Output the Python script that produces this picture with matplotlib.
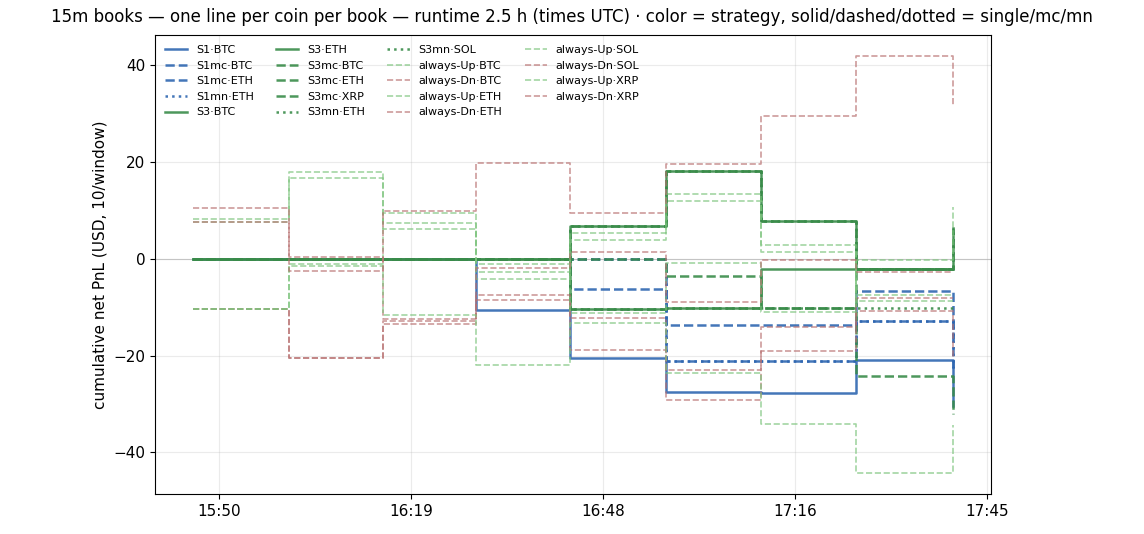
import pandas as pd
import matplotlib
matplotlib.use("Agg")
import matplotlib.pyplot as plt
import matplotlib.dates as mdates

# window timestamps (UTC); last one is the closing mark
window_times = ["15:46:53", "16:01:10", "16:15:19", "16:29:10", "16:43:19",
                "16:57:36", "17:11:45", "17:26:03", "17:40:29"]
tick_start = "15:50:45"
tick_step_s = 1724

# cumulative net PnL per window, one list per coin per book
s1_btc = [0, 0, 0, -10.6, -20.5, -27.6, -27.7, -20.9, -30.5]
s1mc_btc = [0, 0, 0, 0, -6.3, -13.7, -13.7, -6.7, -16.5]
s1mc_eth = [0, 0, 0, 0, 0, -21.1, -21.1, -12.8, -22.5]
s1mn_eth = [0, 0, 0, 0, 0, -21.1, -21.1, -12.8, -22.5]
s3_btc = [0, 0, 0, 0, -10.4, -10.2, -2.1, -2.1, -2.1]
s3_eth = [0, 0, 0, 0, 6.8, 18.1, 7.8, -2.1, 6.3]
s3mc_btc = [0, 0, 0, 0, -10.4, -10.2, -10.2, -2.1, -2.1]
s3mc_eth = [0, 0, 0, 0, 6.8, 18.1, 7.8, -2.1, 6.3]
s3mc_xrp = [0, 0, 0, 0, 0, -3.6, -10.2, -24.2, -32.0]
s3mn_eth = [0, 0, 0, 0, 6.8, 18.1, 7.8, -2.1, 6.3]
s3mn_sol = [0, 0, 0, 0, -10.4, -10.2, -10.2, -10.2, -10.2]

up_btc = [8.2, 17.9, 7.4, -2.8, 5.4, 13.3, 2.9, -7.4, -7.4]
dn_btc = [-10.3, -20.6, -12.9, -7.4, -12.3, -22.9, -14.1, -8.1, -8.1]
up_eth = [7.7, 16.6, 6.2, -4.1, 3.8, 12.0, 1.5, -8.8, -8.8]
dn_eth = [-10.3, -20.6, -13.4, -8.5, -18.8, -29.2, -19.1, -10.7, -20.8]
up_sol = [-10.3, -1.0, 9.5, -1.0, -11.3, -0.8, -11.1, -0.3, 10.8]
dn_sol = [10.5, 0.3, -12.4, -1.9, 1.4, -8.9, -0.3, -2.8, -2.8]
up_xrp = [-10.3, -1.5, -11.7, -22.0, -13.3, -23.6, -34.2, -44.3, -34.3]
dn_xrp = [7.7, -2.6, 9.9, 19.9, 9.5, 19.6, 29.5, 41.9, 31.8]

BLUE = "#2f67b1"
GREEN = "#3a8c4a"
UP = "#7cc47c"
DN = "#b87070"

series = [
    ("S1·BTC", s1_btc, BLUE, "-"),
    ("S1mc·BTC", s1mc_btc, BLUE, "--"),
    ("S1mc·ETH", s1mc_eth, BLUE, "--"),
    ("S1mn·ETH", s1mn_eth, BLUE, ":"),
    ("S3·BTC", s3_btc, GREEN, "-"),
    ("S3·ETH", s3_eth, GREEN, "-"),
    ("S3mc·BTC", s3mc_btc, GREEN, "--"),
    ("S3mc·ETH", s3mc_eth, GREEN, "--"),
    ("S3mc·XRP", s3mc_xrp, GREEN, "--"),
    ("S3mn·ETH", s3mn_eth, GREEN, ":"),
    ("S3mn·SOL", s3mn_sol, GREEN, ":"),
    ("always-Up·BTC", up_btc, UP, "--"),
    ("always-Dn·BTC", dn_btc, DN, "--"),
    ("always-Up·ETH", up_eth, UP, "--"),
    ("always-Dn·ETH", dn_eth, DN, "--"),
    ("always-Up·SOL", up_sol, UP, "--"),
    ("always-Dn·SOL", dn_sol, DN, "--"),
    ("always-Up·XRP", up_xrp, UP, "--"),
    ("always-Dn·XRP", dn_xrp, DN, "--"),
]

times = pd.to_datetime(["2024-01-01 " + t for t in window_times])

fig, ax = plt.subplots(figsize=(11.44, 5.34), dpi=100)
fig.subplots_adjust(left=0.1355, right=0.866, top=0.934, bottom=0.075)

ax.axhline(0, color="#cccccc", lw=0.8, zorder=0)
for label, vals, color, ls in series:
    baseline = label.startswith("always")
    ax.plot(times, vals, drawstyle="steps-post", color=color, linestyle=ls,
            lw=1.2 if baseline else 1.8, alpha=0.7 if baseline else 0.9,
            label=label)

ticks = pd.date_range("2024-01-01 " + tick_start, periods=5, freq=f"{tick_step_s}s")
ax.set_xticks(ticks)
ax.xaxis.set_major_formatter(mdates.DateFormatter("%H:%M"))
ax.tick_params(labelsize=11)
ax.grid(True, alpha=0.25)
ax.set_ylabel("cumulative net PnL (USD, 10/window)", fontsize=11)
fig.suptitle("15m books — one line per coin per book — runtime 2.5 h (times UTC) · "
             "color = strategy, solid/dashed/dotted = single/mc/mn",
             fontsize=12, y=0.985)
ax.legend(loc="upper left", ncol=4, fontsize=8, frameon=False)

fig.savefig("out.png")
